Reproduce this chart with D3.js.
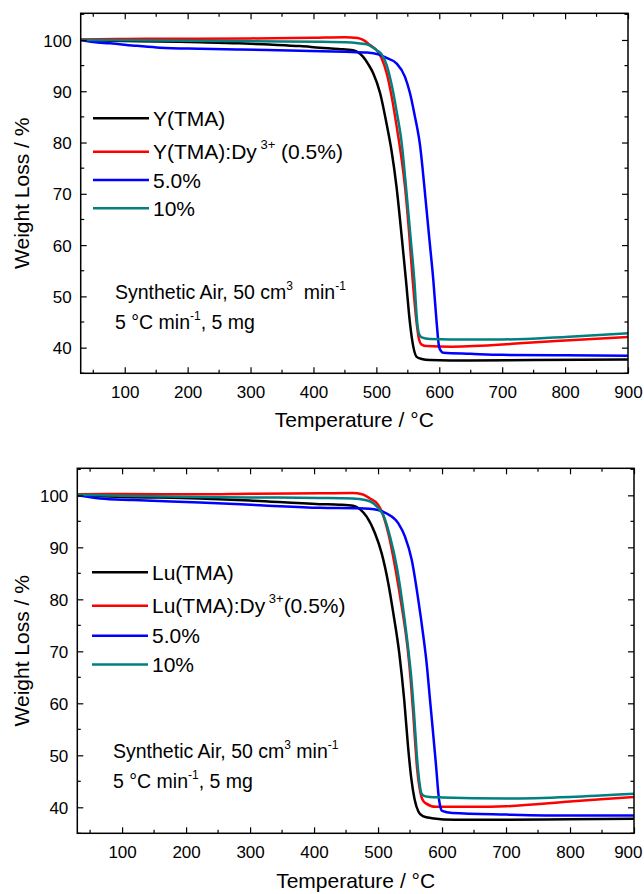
<!DOCTYPE html>
<html>
<head>
<meta charset="utf-8">
<script src="https://cdn.jsdelivr.net/npm/d3@7"></script>
<style>
  html, body { margin: 0; padding: 0; background: #fff; }
  svg { display: block; }
  text { font-family: "Liberation Sans", Arial, Helvetica, sans-serif; fill: #000; }
</style>
</head>
<body>
<svg id="chart" width="644" height="894"></svg>
<script>
// ---------------- DATA ----------------
const xDomain = [30, 900];
const yDomain = [35, 105.2];
const xMajorTicks = [100, 200, 300, 400, 500, 600, 700, 800, 900];
const xMinorTicks = [50, 150, 250, 350, 450, 550, 650, 750, 850];
const yMajorTicks = [40, 50, 60, 70, 80, 90, 100];
const yMinorTicks = [35, 45, 55, 65, 75, 85, 95, 105];

const seriesColors = ["#000000", "#ff0000", "#0000ff", "#008080"];

// Top panel: Y(TMA) series  [temperature °C, weight %]
const yTMA = [[30,100],[80,99.85],[156,99.7],[220,99.55],[283,99.35],[330,99.1],[379,98.8],[410,98.5],[440,98.25],[463,98.0],[472,97.5],[479,96.7],[487,95.3],[495,93.5],[506,89.6],[516,83.8],[524,78.5],[532,71.4],[540,62.0],[547,53.2],[553.5,44.7],[558.7,40.2],[564,38.2],[572,37.8],[585,37.6],[650,37.5],[750,37.6],[900,37.7]];
const yTMADy05 = [[30,100.1],[100,100.2],[200,100.25],[300,100.3],[400,100.45],[450,100.55],[470,100.4],[479,100.0],[490,99.0],[500.5,98.0],[508.5,96.4],[516.4,93.5],[524.4,88.9],[532.3,83.1],[540.3,76.6],[545.5,71.4],[552,62.5],[557.7,53.2],[564.1,44.7],[567.5,41.8],[572,40.6],[580,40.3],[620,40.2],[700,40.6],[728,40.85],[800,41.4],[900,42.1]];
const yTMADy50 = [[30,100],[50,99.6],[76.6,99.35],[120,98.85],[156,98.5],[220,98.3],[283,98.15],[379,97.9],[450,97.7],[485,97.55],[503,97.2],[516,96.5],[532.3,95.4],[545.5,92.8],[553.5,89.6],[561.4,85.0],[565,82.8],[569.4,79.5],[573,75.5],[577.3,70.1],[584,61.5],[590.5,53.2],[595.9,44.8],[599.6,40.2],[603,39.3],[606.4,39.0],[650,38.8],[700,38.6],[800,38.5],[900,38.4]];
const yTMADy10 = [[30,100],[100,99.95],[156,99.9],[250,99.8],[350,99.7],[410,99.65],[460,99.5],[475,99.3],[484.6,99.15],[500.5,98.0],[508.5,97.2],[516.4,95.1],[524.4,91.2],[532.3,86.0],[540.3,79.85],[547.1,71.4],[554,62.0],[560.3,53.2],[565.1,44.7],[568,42.6],[572,42.0],[585,41.7],[650,41.6],[700,41.6],[800,42.1],[900,42.8]];

// Bottom panel: Lu(TMA) series
const luTMA = [[30,100],[100,99.7],[221.7,99.4],[300,99.0],[409,98.3],[440,98.2],[461,98.0],[472,97.3],[482.2,95.9],[495.2,92.7],[505.7,88.85],[516,83.1],[523.9,77.3],[533.2,69.6],[541,60.5],[547,51.5],[552,45.5],[557,41.6],[563,39.2],[570,38.3],[584,37.9],[620,37.6],[700,37.6],[800,37.7],[900,37.8]];
const luTMADy05 = [[30,100.2],[100,100.25],[221.7,100.2],[300,100.3],[409,100.4],[460,100.45],[475,100.2],[487.4,99.4],[500,98.2],[505.7,96.9],[511,95.0],[516,92.7],[526.5,86.3],[537,78.6],[542,74.6],[546.5,70.3],[551,64.5],[555,58.0],[558.1,52.3],[561,47.5],[564.5,44.0],[569,41.6],[574.2,40.8],[590.3,40.1],[650,40.1],[700,40.2],[800,41.1],[900,42.0]];
const luTMADy50 = [[30,100],[65.5,99.4],[117.5,99.1],[221.7,98.6],[315.5,98.1],[409,97.6],[470,97.5],[500,97.2],[513.5,96.5],[531.7,94.6],[542.1,92.05],[552.6,87.6],[562.9,79.9],[570.7,73.0],[576.1,67.5],[580.6,61.5],[585.5,55.0],[590.3,48.5],[595.4,41.4],[598,39.8],[600,39.3],[616,38.9],[700,38.6],[800,38.4],[900,38.4]];
const luTMADy10 = [[30,100.1],[100,99.9],[221.7,99.7],[300,99.6],[409,99.5],[460,99.4],[480,99.1],[492.6,98.5],[500,97.6],[508.2,96.2],[518.7,92.05],[529.2,86.3],[539.5,77.95],[547.3,70.3],[551.5,65.5],[556,58.5],[561.2,49.1],[564.5,45.0],[567.8,42.7],[572,42.2],[577.3,42.05],[600,41.9],[700,41.7],[800,42.0],[900,42.6]];

const topLegend = [
  {main: "Y(TMA)"},
  {main: "Y(TMA):Dy", sup: " 3+", tail: " (0.5%)"},
  {main: "5.0%"},
  {main: "10%"}
];
const bottomLegend = [
  {main: "Lu(TMA)"},
  {main: "Lu(TMA):Dy", sup: " 3+", tail: "(0.5%)"},
  {main: "5.0%"},
  {main: "10%"}
];
const topNote = [
  [{t: "Synthetic Air, 50 cm"}, {t: "3", sup: true}, {t: "\u00a0\u00a0min"}, {t: "-1", sup: true}],
  [{t: "5 \u00b0C min"}, {t: "-1", sup: true}, {t: ", 5 mg"}]
];
const bottomNote = [
  [{t: "Synthetic Air, 50 cm"}, {t: "3", sup: true}, {t: " min"}, {t: "-1", sup: true}],
  [{t: "5 \u00b0C min"}, {t: "-1", sup: true}, {t: ", 5 mg"}]
];
const xTitle = "Temperature / \u00b0C";
const yTitle = "Weight Loss / %";

// ---------------- DRAWING ----------------
const svg = d3.select("#chart");

const panels = [
  {box: {l: 80.7, t: 13.3, r: 628, b: 373.3}, series: [yTMA, yTMADy05, yTMADy50, yTMADy10],
   legend: topLegend, legendY: [118.3, 151.7, 180, 208.3], legendX: 93,
   note: topNote, noteX: 115, noteY: [299, 329], xTitleY: 427, tickLabelY: 398.5},
  {box: {l: 77.3, t: 468.3, r: 634, b: 833.3}, series: [luTMA, luTMADy05, luTMADy50, luTMADy10],
   legend: bottomLegend, legendY: [572.3, 605.7, 635.7, 664.5], legendX: 92,
   note: bottomNote, noteX: 113, noteY: [758, 788], xTitleY: 888, tickLabelY: 858.5}
];

panels.forEach((p, pi) => {
  const {l, t, r, b} = p.box;
  const x = d3.scaleLinear().domain(xDomain).range([l, r]);
  const y = d3.scaleLinear().domain(yDomain).range([b, t]);
  const g = svg.append("g");

  const clipId = "clip" + pi;
  g.append("clipPath").attr("id", clipId).append("rect")
    .attr("x", l).attr("y", t).attr("width", r - l).attr("height", b - t);

  // curves
  const line = d3.line().x(d => x(d[0])).y(d => y(d[1])).curve(d3.curveMonotoneX);
  const lines = g.append("g").attr("clip-path", `url(#${clipId})`);
  p.series.forEach((s, i) => {
    lines.append("path").datum(s)
      .attr("fill", "none").attr("stroke", seriesColors[i])
      .attr("stroke-width", 2.5).attr("stroke-linejoin", "round")
      .attr("d", line);
  });

  // axes (ticks inward on all four sides)
  const axStyle = sel => {
    sel.select(".domain").remove();
    sel.selectAll("line").attr("stroke", "#000").attr("stroke-width", 1.2);
    sel.selectAll("text").style("font-size", "17px")
      .style("font-family", '"Liberation Sans", Arial, sans-serif').attr("fill", "#000");
  };
  // bottom
  const gb = g.append("g").attr("transform", `translate(0,${b})`);
  gb.call(d3.axisBottom(x).tickValues(xMajorTicks).tickSizeInner(-6).tickSizeOuter(0).tickPadding(0).tickFormat(d3.format("d")));
  gb.call(axStyle);
  gb.selectAll("text").attr("dy", null).attr("y", p.tickLabelY - b);
  // keep the last label inside the page
  gb.selectAll(".tick").filter(d => d === 900 && x(900) + 14 > 642)
    .select("text").attr("text-anchor", "end").attr("x", 642 - x(900));
  gb.append("g").selectAll("line").data(xMinorTicks).join("line")
    .attr("x1", d => x(d)).attr("x2", d => x(d)).attr("y1", 0).attr("y2", -3.5)
    .attr("stroke", "#000").attr("stroke-width", 1.2);
  // top
  const gt = g.append("g").attr("transform", `translate(0,${t})`);
  gt.call(d3.axisTop(x).tickValues(xMajorTicks).tickSizeInner(-6).tickSizeOuter(0).tickFormat(""));
  gt.call(axStyle);
  gt.append("g").selectAll("line").data(xMinorTicks).join("line")
    .attr("x1", d => x(d)).attr("x2", d => x(d)).attr("y1", 0).attr("y2", 3.5)
    .attr("stroke", "#000").attr("stroke-width", 1.2);
  // left
  const gl = g.append("g").attr("transform", `translate(${l},0)`);
  gl.call(d3.axisLeft(y).tickValues(yMajorTicks).tickSizeInner(-6).tickSizeOuter(0).tickPadding(9).tickFormat(d3.format("d")));
  gl.call(axStyle);
  gl.selectAll("text").attr("dy", "0.36em");
  gl.append("g").selectAll("line").data(yMinorTicks).join("line")
    .attr("y1", d => y(d)).attr("y2", d => y(d)).attr("x1", 0).attr("x2", 3.5)
    .attr("stroke", "#000").attr("stroke-width", 1.2);
  // right
  const gr = g.append("g").attr("transform", `translate(${r},0)`);
  gr.call(d3.axisRight(y).tickValues(yMajorTicks).tickSizeInner(-6).tickSizeOuter(0).tickFormat(""));
  gr.call(axStyle);
  gr.append("g").selectAll("line").data(yMinorTicks).join("line")
    .attr("y1", d => y(d)).attr("y2", d => y(d)).attr("x1", 0).attr("x2", -3.5)
    .attr("stroke", "#000").attr("stroke-width", 1.2);

  // frame
  g.append("rect").attr("x", l).attr("y", t).attr("width", r - l).attr("height", b - t)
    .attr("fill", "none").attr("stroke", "#000").attr("stroke-width", 1.5);

  // axis titles
  g.append("text").attr("x", (l + r) / 2).attr("y", p.xTitleY)
    .attr("text-anchor", "middle").style("font-size", "21px").text(xTitle);
  g.append("text")
    .attr("transform", `translate(29,${(t + b) / 2}) rotate(-90)`)
    .attr("text-anchor", "middle").style("font-size", "21px").text(yTitle);

  // legend
  p.legend.forEach((item, i) => {
    const ly = p.legendY[i];
    g.append("line").attr("x1", p.legendX).attr("x2", p.legendX + 56)
      .attr("y1", ly).attr("y2", ly)
      .attr("stroke", seriesColors[i]).attr("stroke-width", 2.5);
    const tx = g.append("text").attr("x", p.legendX + 60).attr("y", ly + 7.5)
      .style("font-size", "21px");
    tx.append("tspan").text(item.main);
    if (item.sup) {
      tx.append("tspan").attr("dy", -10).style("font-size", "13px").text(item.sup);
      tx.append("tspan").attr("dy", 10).text(item.tail);
    }
  });

  // annotation
  p.note.forEach((parts, li) => {
    const tx = g.append("text").attr("x", p.noteX).attr("y", p.noteY[li])
      .style("font-size", "19.5px").attr("xml:space", "preserve");
    let raised = false;
    parts.forEach(part => {
      const ts = tx.append("tspan").text(part.t);
      if (part.sup && !raised) { ts.attr("dy", -9).style("font-size", "12px"); raised = true; }
      else if (!part.sup && raised) { ts.attr("dy", 9); raised = false; }
    });
  });
});
</script>
</body>
</html>
